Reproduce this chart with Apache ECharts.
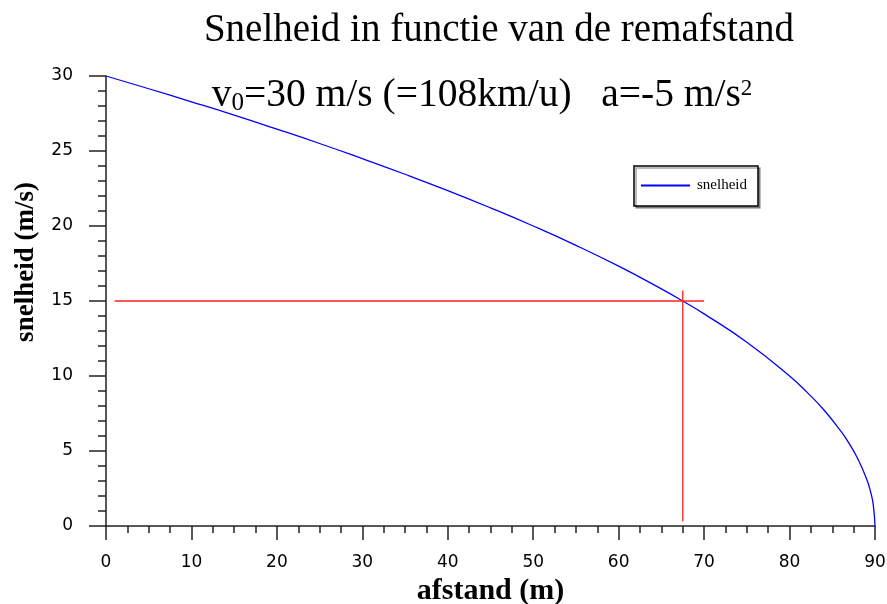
<!DOCTYPE html>
<html><head><meta charset="utf-8">
<script src="https://cdn.jsdelivr.net/npm/echarts@6/dist/echarts.min.js"></script>
<style>html,body{margin:0;padding:0;background:#fff}#c{width:887px;height:604px}</style>
</head><body><div id="c"></div>
<script>
// distance (m) and speed (m/s)
const afstand = [0, 5, 10, 15, 20, 25, 30, 35, 40, 45, 50, 55, 60, 65, 67.5, 70, 75, 80, 82, 84, 86, 87, 88, 89, 89.5, 89.8, 90];
const snelheid = [30, 29.15, 28.28, 27.39, 26.46, 25.5, 24.49, 23.45, 22.36, 21.21, 20, 18.71, 17.32, 15.81, 15, 14.14, 12.25, 10, 8.94, 7.75, 6.32, 5.48, 4.47, 3.16, 2.24, 1.41, 0];
const hLineX = [1, 70];
const hLineY = [15, 15];
const vLineX = [67.5, 67.5];
const vLineY = [0.3, 15.7];
const xTicks = [0, 10, 20, 30, 40, 50, 60, 70, 80, 90];
const yTicks = [0, 5, 10, 15, 20, 25, 30];

const chart = echarts.init(document.getElementById('c'));
const axisCol = '#222';
chart.setOption({
  animation: false,
  backgroundColor: '#fff',
  title: [{
    text: 'Snelheid in functie van de remafstand',
    left: 494, top: 6, textAlign: 'center',
    textStyle: { fontFamily: 'Liberation Serif', fontSize: 39, fontWeight: 'normal', color: '#000' }
  }, {
    text: 'v{s|0}=30 m/s (=108km/u)   a=-5 m/s{p|2}',
    left: 477, top: 70, textAlign: 'center',
    textStyle: { fontFamily: 'Liberation Serif', fontSize: 39.5, fontWeight: 'normal', color: '#000',
      rich: {
        s: { fontFamily: 'Liberation Serif', fontSize: 25, padding: [16, 0, 0, 0], color: '#000' },
        p: { fontFamily: 'Liberation Serif', fontSize: 23, padding: [0, 0, 14, 0], color: '#000' }
      } }
  }],
  legend: {
    data: ['snelheid'],
    left: 634, top: 166,
    orient: 'vertical',
    padding: [12, 11, 13, 7],
    borderColor: '#000', borderWidth: 1.5,
    shadowColor: 'rgba(0,0,0,0.35)', shadowOffsetX: 2, shadowOffsetY: 2, shadowBlur: 0,
    backgroundColor: '#fff',
    itemWidth: 49, itemHeight: 2, icon: 'rect', itemGap: 0,
    textStyle: { fontFamily: 'Liberation Serif', fontSize: 15, color: '#000', padding: [0, 0, 0, 2] }
  },
  graphic: [{
    type: 'text', x: 26, y: 262, rotation: Math.PI / 2,
    style: { text: 'snelheid (m/s)', fontFamily: 'Liberation Serif', fontSize: 27, fontWeight: 'bold',
      fill: '#000', align: 'center', verticalAlign: 'middle' }
  }],
  grid: { left: 106, right: 12, top: 76, bottom: 78, outerBoundsMode: 'none', containLabel: false },
  xAxis: {
    type: 'value', min: 0, max: 90, interval: 10,
    name: 'afstand (m)', nameLocation: 'middle', nameGap: 44,
    nameTextStyle: { fontFamily: 'Liberation Serif', fontSize: 30, fontWeight: 'bold', color: '#000' },
    axisLine: { onZero: false, lineStyle: { color: axisCol, width: 1.5 } },
    axisTick: { show: true, length: 14, lineStyle: { color: axisCol, width: 1.5 } },
    minorTick: { show: true, splitNumber: 4, length: 7, lineStyle: { color: axisCol, width: 1.5 } },
    axisLabel: { margin: 28, fontFamily: 'DejaVu Sans', fontSize: 17, color: '#000',
      formatter: v => xTicks.includes(v) ? String(v) : '' },
    splitLine: { show: false }
  },
  yAxis: {
    type: 'value', min: 0, max: 30, interval: 5,
    axisLine: { show: true, lineStyle: { color: axisCol, width: 1.5 } },
    axisTick: { show: true, length: 17, lineStyle: { color: axisCol, width: 1.5 } },
    minorTick: { show: true, splitNumber: 5, length: 8, lineStyle: { color: axisCol, width: 1.5 } },
    axisLabel: { margin: 33, fontFamily: 'DejaVu Sans', fontSize: 17, color: '#000',
      formatter: v => yTicks.includes(v) ? String(v) : '' },
    splitLine: { show: false }
  },
  series: [{
    name: 'snelheid', type: 'line', showSymbol: false, smooth: true,
    data: afstand.map((x, i) => [x, snelheid[i]]),
    lineStyle: { color: '#0000ff', width: 1.3 }, itemStyle: { color: '#0000ff' }
  }, {
    name: 'h', type: 'line', showSymbol: false,
    data: hLineX.map((x, i) => [x, hLineY[i]]),
    lineStyle: { color: '#ff2020', width: 1.3 }
  }, {
    name: 'v', type: 'line', showSymbol: false,
    data: vLineX.map((x, i) => [x, vLineY[i]]),
    lineStyle: { color: '#ff2020', width: 1.3 }
  }]
});
</script></body></html>
